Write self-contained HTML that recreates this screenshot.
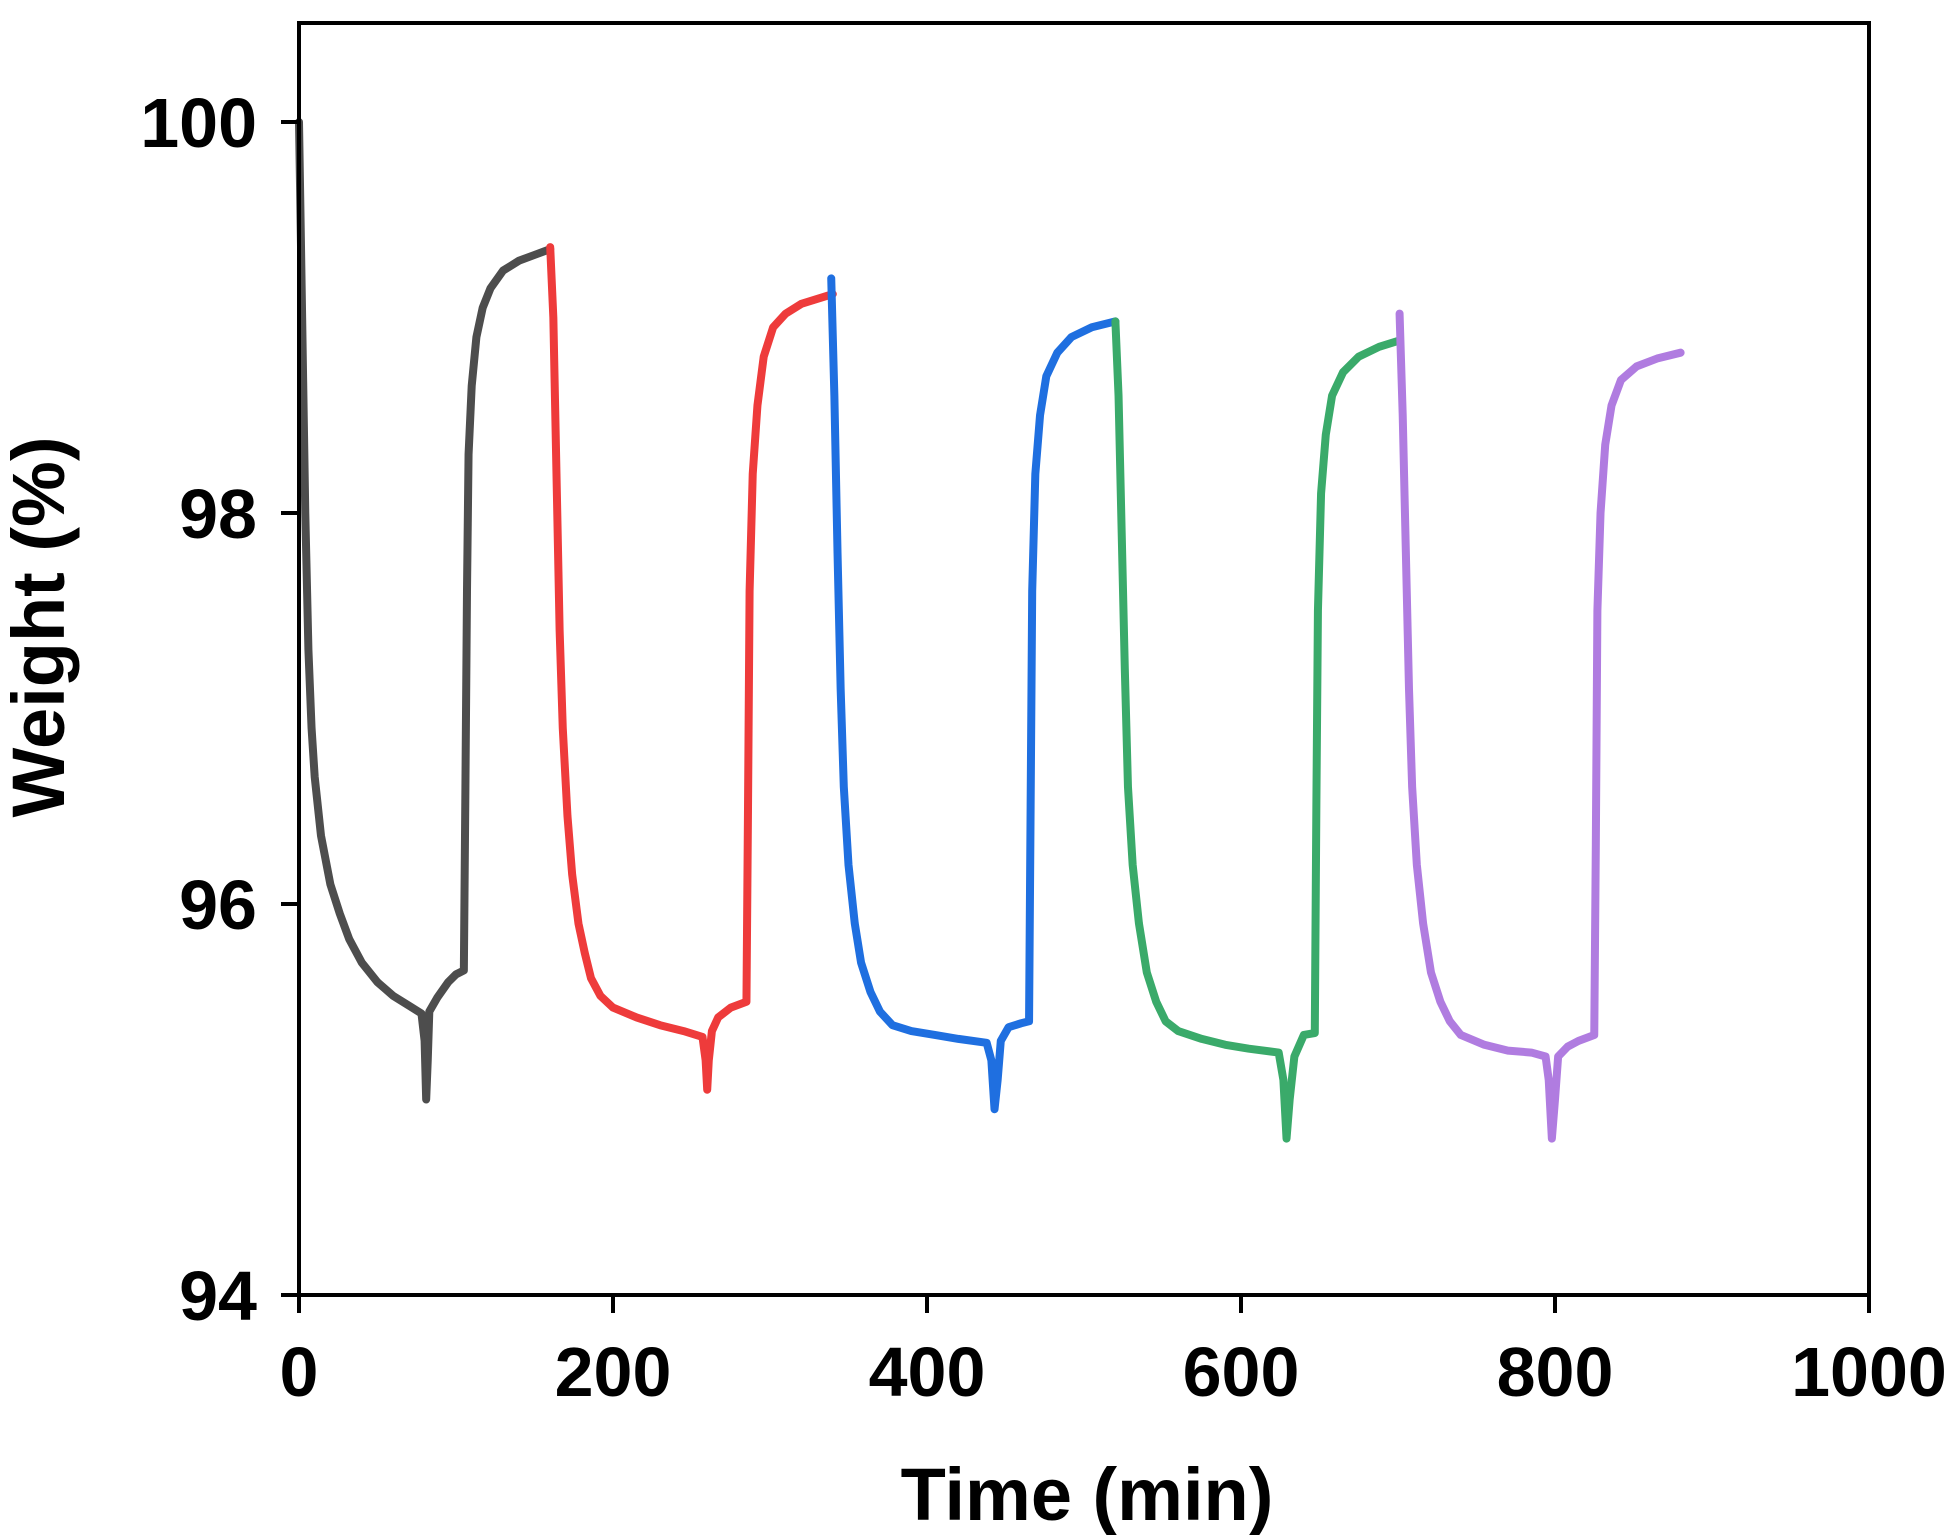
<!DOCTYPE html>
<html><head><meta charset="utf-8"><style>
html,body{margin:0;padding:0;background:#fff}
svg text{font-family:"Liberation Sans",Arial,sans-serif;font-weight:bold;fill:#000}
</style></head><body>
<svg width="1956" height="1535" viewBox="0 0 1956 1535" xmlns="http://www.w3.org/2000/svg">
<rect x="0" y="0" width="1956" height="1535" fill="#fff"/>
<g fill="none" stroke-linejoin="round" stroke-linecap="round" stroke-width="8">
<g transform="matrix(1.570,0,0,-195.5,299,19672)">
<path vector-effect="non-scaling-stroke" stroke="#4d4d4d" d="M0,100 L2,99 L4,98 L6,97.3 L8,96.9 L10,96.65 L14,96.35 L20,96.1 L26,95.95 L32,95.82 L40,95.7 L50,95.6 L60,95.53 L70,95.48 L78,95.44 L80,95.3 L81,95.0 L82,95.2 L83,95.45 L88,95.52 L95,95.6 L100,95.64 L105,95.66 L106,96.6 L107,97.6 L108,98.3 L110,98.65 L113,98.9 L117,99.05 L122,99.15 L130,99.24 L140,99.29 L150,99.32 L160,99.35"/>
<path vector-effect="non-scaling-stroke" stroke="#ee3b3b" d="M160,99.36 L162,99.0 L164,98.2 L166,97.4 L168,96.9 L171,96.45 L174,96.15 L178,95.9 L182,95.75 L186,95.62 L192,95.53 L200,95.47 L215,95.42 L230,95.38 L245,95.35 L257,95.32 L259,95.2 L260,95.05 L261,95.2 L263,95.35 L267,95.42 L275,95.47 L285,95.5 L286,96.5 L287,97.6 L289,98.2 L292,98.55 L296,98.8 L302,98.95 L310,99.02 L320,99.07 L340,99.12"/>
<path vector-effect="non-scaling-stroke" stroke="#1f6fe0" d="M339,99.2 L341,98.6 L343,97.8 L345,97.1 L347,96.6 L350,96.2 L354,95.9 L358,95.7 L364,95.55 L370,95.45 L378,95.38 L390,95.35 L405,95.33 L420,95.31 L438,95.29 L441,95.2 L443,94.95 L445,95.1 L447,95.3 L452,95.37 L460,95.39 L465,95.4 L466,96.5 L467,97.6 L469,98.2 L472,98.5 L476,98.7 L483,98.82 L492,98.9 L505,98.95 L520,98.98"/>
<path vector-effect="non-scaling-stroke" stroke="#3aaa6a" d="M520,98.98 L522,98.6 L524,97.9 L526,97.2 L528,96.6 L531,96.2 L535,95.9 L540,95.65 L546,95.5 L552,95.4 L560,95.35 L575,95.31 L590,95.28 L605,95.26 L624,95.24 L627,95.1 L629,94.8 L631,95.0 L634,95.22 L640,95.33 L647,95.34 L648,96.5 L649,97.5 L651,98.1 L654,98.4 L658,98.6 L665,98.72 L675,98.8 L688,98.85 L700,98.88"/>
<path vector-effect="non-scaling-stroke" stroke="#b07ce0" d="M701,99.02 L703,98.5 L705,97.8 L707,97.1 L709,96.6 L712,96.2 L716,95.9 L721,95.65 L727,95.5 L733,95.4 L740,95.33 L755,95.28 L770,95.25 L785,95.24 L794,95.22 L796,95.1 L798,94.8 L800,95.0 L802,95.22 L808,95.27 L815,95.3 L825,95.33 L826,96.3 L827,97.5 L829,98.0 L832,98.35 L836,98.55 L842,98.68 L852,98.75 L865,98.79 L880,98.82"/>
</g>
</g>
<g stroke="#000" stroke-width="4" fill="none">
<rect x="299" y="23" width="1570" height="1272"/>
<line x1="281" y1="122" x2="299" y2="122"/>
<line x1="281" y1="513" x2="299" y2="513"/>
<line x1="281" y1="904" x2="299" y2="904"/>
<line x1="281" y1="1295" x2="299" y2="1295"/>
<line x1="299" y1="1295" x2="299" y2="1313"/>
<line x1="613" y1="1295" x2="613" y2="1313"/>
<line x1="927" y1="1295" x2="927" y2="1313"/>
<line x1="1241" y1="1295" x2="1241" y2="1313"/>
<line x1="1555" y1="1295" x2="1555" y2="1313"/>
<line x1="1869" y1="1295" x2="1869" y2="1313"/>
</g>
<g font-size="70" text-anchor="end">
<text x="257" y="147">100</text>
<text x="257" y="538">98</text>
<text x="257" y="929">96</text>
<text x="257" y="1320">94</text>
</g>
<g font-size="70" text-anchor="middle">
<text x="299" y="1396">0</text>
<text x="613" y="1396">200</text>
<text x="927" y="1396">400</text>
<text x="1241" y="1396">600</text>
<text x="1555" y="1396">800</text>
<text x="1869" y="1396">1000</text>
</g>
<text x="1087" y="1520" font-size="74" text-anchor="middle">Time (min)</text>
<text transform="translate(64,627) rotate(-90)" font-size="74" text-anchor="middle">Weight (%)</text>
</svg>
</body></html>
